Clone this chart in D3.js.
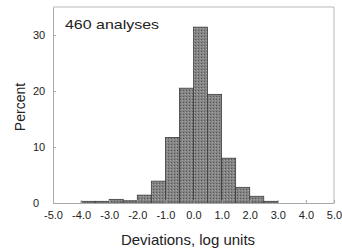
<!DOCTYPE html>
<html>
<head>
<meta charset="utf-8">
<script src="https://cdn.jsdelivr.net/npm/d3@7"></script>
<style>
  html, body { margin: 0; padding: 0; background: #fff; }
  svg { display: block; font-family: "Liberation Sans", Arial, Helvetica, sans-serif; }
</style>
</head>
<body>
<svg id="chart" width="342" height="249"></svg>
<script>
// ---- data ----
const binStarts = [-4.0, -3.5, -3.0, -2.5, -2.0, -1.5, -1.0, -0.5, 0.0, 0.5, 1.0, 1.5, 2.0, 2.5];
const binWidth = 0.5;
const percents  = [0.3, 0.3, 0.65, 0.4, 1.4, 3.9, 11.7, 20.5, 31.4, 19.4, 8.0, 2.8, 1.2, 0.3];
const xTicks = [-5, -4, -3, -2, -1, 0, 1, 2, 3, 4, 5];
const yTicks = [0, 10, 20, 30];
const annotation = "460 analyses";
const xTitle = "Deviations, log units";
const yTitle = "Percent";

// ---- layout ----
const svg = d3.select("#chart");
const x = d3.scaleLinear().domain([-5, 5]).range([53, 334]);
const y = d3.scaleLinear().domain([0, 35]).range([203, 7]);

// stipple pattern for bars
const defs = svg.append("defs");
const pat = defs.append("pattern")
  .attr("id", "stip").attr("patternUnits", "userSpaceOnUse")
  .attr("width", 3).attr("height", 3);
pat.append("rect").attr("width", 3).attr("height", 3).attr("fill", "#858585");
pat.append("rect").attr("x", 0).attr("y", 0).attr("width", 1).attr("height", 1).attr("fill", "#555");
pat.append("rect").attr("x", 2).attr("y", 1).attr("width", 1).attr("height", 1).attr("fill", "#a5a5a5");

// frame (top and right)
svg.append("path")
  .attr("d", `M${x(-5)},${y(35)}H${x(5)}V${y(0)}`)
  .attr("fill", "none").attr("stroke", "#b8b8b8").attr("stroke-width", 1);

// bars
svg.append("g").selectAll("rect")
  .data(binStarts.map((s, i) => ({ s, v: percents[i] })))
  .join("rect")
  .attr("x", d => x(d.s))
  .attr("width", d => x(d.s + binWidth) - x(d.s))
  .attr("y", d => y(d.v))
  .attr("height", d => y(0) - y(d.v))
  .attr("fill", "url(#stip)")
  .attr("stroke", "#3c3c3c")
  .attr("stroke-width", 0.8);

// x axis
const xAxis = svg.append("g")
  .attr("transform", `translate(0,${y(0)})`)
  .call(d3.axisBottom(x).tickValues(xTicks).tickFormat(d => d.toFixed(1)).tickSizeInner(-3).tickSizeOuter(0).tickPadding(8));
xAxis.select(".domain").attr("stroke", "#aaa");
xAxis.selectAll(".tick line").attr("stroke", "#aaa");
xAxis.selectAll("text").attr("font-size", 11).attr("fill", "#222")
  .attr("font-family", "Liberation Sans, Arial, sans-serif");

// y axis
const yAxis = svg.append("g")
  .attr("transform", `translate(${x(-5)},0)`)
  .call(d3.axisLeft(y).tickValues(yTicks).tickFormat(d3.format("d")).tickSizeInner(-3).tickSizeOuter(0).tickPadding(0));
yAxis.select(".domain").attr("stroke", "#aaa");
yAxis.selectAll(".tick line").attr("stroke", "#aaa");
yAxis.selectAll("text").attr("font-size", 11).attr("fill", "#222")
  .attr("text-anchor", "start").attr("x", 33 - x(-5))
  .attr("font-family", "Liberation Sans, Arial, sans-serif");

// annotation
svg.append("text")
  .attr("x", 65).attr("y", 29)
  .attr("font-size", 13.5).attr("fill", "#222")
  .attr("textLength", 94).attr("lengthAdjust", "spacingAndGlyphs")
  .text(annotation);

// axis titles
svg.append("text")
  .attr("x", 188).attr("y", 245)
  .attr("text-anchor", "middle")
  .attr("font-size", 15).attr("fill", "#222")
  .text(xTitle);

svg.append("text")
  .attr("transform", `translate(25,107) rotate(-90)`)
  .attr("text-anchor", "middle")
  .attr("font-size", 14).attr("fill", "#222")
  .text(yTitle);
</script>
</body>
</html>
